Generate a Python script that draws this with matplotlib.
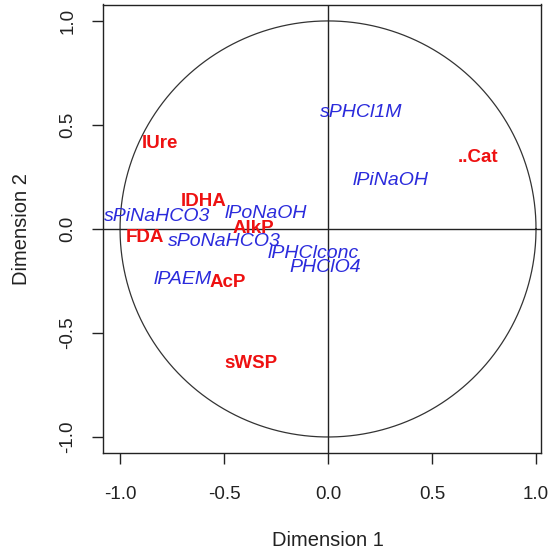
import numpy as np
import matplotlib
matplotlib.use("Agg")
import matplotlib.pyplot as plt

# Variable labels and their coordinates on the two dimensions
blue_labels = ["sPHCl1M", "lPiNaOH", "sPiNaHCO3", "lPoNaOH", "sPoNaHCO3",
               "lPHClconc", "PHClO4", "lPAEM"]
blue_x = [0.16, 0.30, -0.82, -0.30, -0.50, -0.07, -0.015, -0.70]
blue_y = [0.56, 0.235, 0.06, 0.075, -0.06, -0.12, -0.185, -0.245]

red_labels = ["..Cat", "lUre", "lDHA", "FDA", "AlkP", "AcP", "sWSP"]
red_x = [0.72, -0.81, -0.60, -0.88, -0.36, -0.48, -0.37]
red_y = [0.345, 0.41, 0.13, -0.04, 0.0, -0.255, -0.645]

ticks = [-1.0, -0.5, 0.0, 0.5, 1.0]
tick_labels = ["-1.0", "-0.5", "0.0", "0.5", "1.0"]

plt.rcParams['font.family'] = ['Liberation Sans', 'DejaVu Sans']

W, H = 550, 552
fig = plt.figure(figsize=(5.5, 5.52), dpi=100)
ax = fig.add_axes([103 / W, 1 - 453 / H, (541 - 103) / W, (453 - 4.5) / H])
ax.set_xlim(-1.082, 1.024)
ax.set_ylim(-1.077, 1.079)

# unit circle
th = np.linspace(0, 2 * np.pi, 400)
ax.plot(np.cos(th), np.sin(th), color='#333333', lw=0.9)
ax.axhline(0, color='#222222', lw=1.0)
ax.axvline(0, color='#222222', lw=1.0)

for lab, x, y in zip(blue_labels, blue_x, blue_y):
    ax.text(x, y, lab, color='#2b2bdc', fontsize=14, style='italic',
            ha='center', va='center')
for lab, x, y in zip(red_labels, red_x, red_y):
    ax.text(x, y, lab, color='#ee1111', fontsize=13.5, fontweight='bold',
            ha='center', va='center')

ax.set_xticks(ticks)
ax.set_xticklabels(tick_labels)
ax.set_yticks(ticks)
ax.set_yticklabels(tick_labels, rotation=90, va='center')
ax.tick_params(direction='out', length=8, width=1, labelsize=13.5,
               colors='#222222')
ax.tick_params(axis='x', pad=15.5)
ax.tick_params(axis='y', pad=11)
for s in ax.spines.values():
    s.set_color('#222222')
    s.set_linewidth(1.0)

fig.text(328 / W, 1 - 540 / H, "Dimension 1", fontsize=14.5, color='#222222',
         ha='center', va='center')
fig.text(22 / W, 1 - 229 / H, "Dimension 2", fontsize=14.5, color='#222222',
         ha='center', va='center', rotation=90)

fig.savefig("out.png", dpi=100)
